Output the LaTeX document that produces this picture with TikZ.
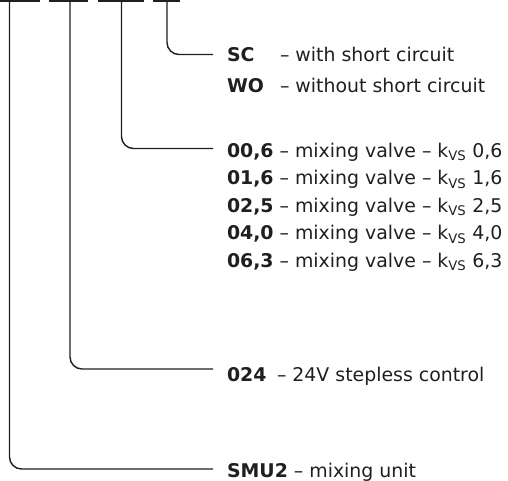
\documentclass[tikz,border=0pt]{standalone}
\usepackage{fontspec}
\setmainfont{DejaVu Sans}
\begin{document}
\begin{tikzpicture}[x=1pt,y=-1pt,
  conn/.style={draw=black!88,line width=1.4pt,rounded corners=12pt},
  bar/.style={draw=black!88,line width=1.5pt},
  lbl/.style={anchor=base west,inner sep=0pt,outer sep=0pt,text=black!88,font=\fontsize{18.9}{22}\selectfont}]
\useasboundingbox (0,0) rectangle (508,480);
% top bars
\coordinate (a1) at (0,0.8);   \coordinate (b1) at (40,0.8);
\coordinate (a2) at (49,0.8);  \coordinate (b2) at (88,0.8);
\coordinate (a3) at (98,0.8);  \coordinate (b3) at (144,0.8);
\coordinate (a4) at (153,0.8); \coordinate (b4) at (180,0.8);
\draw[bar] (a1) -- (b1);
\draw[bar] (a2) -- (b2);
\draw[bar] (a3) -- (b3);
\draw[bar] (a4) -- (b4);
\coordinate (t1) at (9.5,0.8);
\coordinate (t2) at (70,0.8);
\coordinate (t3) at (121.5,0.8);
\coordinate (t4) at (167,0.8);
\coordinate (e1) at (213,469);
\coordinate (e2) at (213,369);
\coordinate (e3) at (213,148.5);
\coordinate (e4) at (213,54.5);
\draw[conn] (t1) |- (e1);
\draw[conn] (t2) |- (e2);
\draw[conn] (t3) |- (e3);
\draw[conn] (t4) |- (e4);
% labels
\node[lbl] (sc)  at (227,61.5) {\textbf{SC}};
\node[lbl] (scd) at (280,61.5) {– with short circuit};
\node[lbl] (wo)  at (227,92.5) {\textbf{WO}};
\node[lbl] (wod) at (280,92.5) {– without short circuit};
\node[lbl] (v1) at (227,157) {\textbf{00,6} – mixing valve – k\textsubscript{VS} 0,6};
\node[lbl] (v2) at (227,184.5) {\textbf{01,6} – mixing valve – k\textsubscript{VS} 1,6};
\node[lbl] (v3) at (227,212) {\textbf{02,5} – mixing valve – k\textsubscript{VS} 2,5};
\node[lbl] (v4) at (227,239.5) {\textbf{04,0} – mixing valve – k\textsubscript{VS} 4,0};
\node[lbl] (v5) at (227,267) {\textbf{06,3} – mixing valve – k\textsubscript{VS} 6,3};
\node[lbl] (c1)  at (227,381.5) {\textbf{024}};
\node[lbl] (c1d) at (277,381.5) {– 24V stepless control};
\node[lbl] (u1) at (227,477) {\textbf{SMU2} – mixing unit};
\end{tikzpicture}
\end{document}
